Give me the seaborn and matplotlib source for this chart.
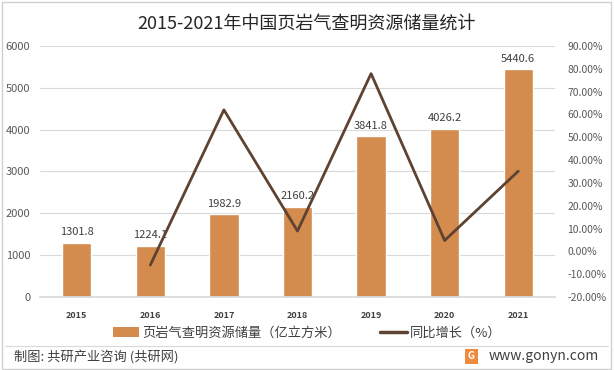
import numpy as np
import pandas as pd
import seaborn as sns
import matplotlib.pyplot as plt
from matplotlib.patches import Patch, Rectangle
from matplotlib.lines import Line2D
from matplotlib.ticker import PercentFormatter

# data
years = ['2015', '2016', '2017', '2018', '2019', '2020', '2021']
reserves = [1301.8, 1224.1, 1982.9, 2160.2, 3841.8, 4026.2, 5440.6]
growth = [np.nan, -5.97, 61.99, 8.94, 77.85, 4.80, 35.14]

bar_color = '#D38B4E'
line_color = '#5E4232'

sns.set_theme(style='white')
plt.rcParams['font.family'] = ['Noto Sans CJK SC', 'DejaVu Sans']
plt.rcParams['axes.unicode_minus'] = False

df = pd.DataFrame({'year': years, 'reserves': reserves, 'growth': growth})
df['pos'] = range(len(df))

fig = plt.figure(figsize=(6.14, 3.70), dpi=100)
ax = fig.add_axes([0.065, 0.197, 0.839, 0.679])

sns.barplot(data=df, x='year', y='reserves', color=bar_color, width=0.4,
            saturation=1, ax=ax, zorder=2)
ax.set_ylim(0, 6000)
ax.set_yticks(range(0, 6001, 1000))
ax.set_xlim(-0.5, 6.5)
ax.yaxis.grid(True, color='#D9D9D9', lw=0.8, zorder=0)
ax.set_axisbelow(True)
ax.set_xlabel('')
ax.set_ylabel('')
ax.tick_params(axis='y', labelsize=8, pad=7, colors='#595959', length=0)
ax.tick_params(axis='x', labelsize=6.5, pad=10, length=0)
for lab in ax.get_xticklabels():
    lab.set_fontweight('bold')
    lab.set_color('#404040')
for s in ax.spines.values():
    s.set_visible(False)
ax.spines['bottom'].set_visible(True)
ax.spines['bottom'].set_color('#D9D9D9')

for i, v in enumerate(reserves):
    ax.text(i, v + 130, f'{v:.1f}', ha='center', va='bottom', fontsize=8,
            color='#404040')

ax2 = ax.twinx()
sns.lineplot(data=df.dropna(), x='pos', y='growth', color=line_color, lw=2,
             ax=ax2, zorder=3)
ax2.set_ylim(-20, 90)
ax2.set_yticks(range(-20, 91, 10))
ax2.yaxis.set_major_formatter(PercentFormatter(decimals=2))
ax2.set_xlim(-0.5, 6.5)
ax2.set_ylabel('')
ax2.set_xlabel('')
ax2.tick_params(axis='y', labelsize=7.5, pad=9, colors='#595959', length=0)
for s in ax2.spines.values():
    s.set_visible(False)

fig.text(0.5, 0.935, '2015-2021年中国页岩气查明资源储量统计', ha='center',
         va='center', fontsize=13, color='#262626')

handles = [Patch(facecolor=bar_color, edgecolor='none'),
           Line2D([], [], color=line_color, lw=2.5)]
fig.legend(handles, ['页岩气查明资源储量（亿立方米）', '同比增长（%）'],
           loc='center', bbox_to_anchor=(0.5, 0.1), ncol=2, frameon=False,
           fontsize=9.5, handlelength=2.0, handletextpad=0.2,
           columnspacing=3, labelcolor='#404040')

fig.add_artist(Line2D([0.008, 0.99], [0.065, 0.065], color='#D9D9D9', lw=0.8,
                      transform=fig.transFigure))
fig.text(0.022, 0.035, '制图: 共研产业咨询 (共研网)', ha='left', va='center',
         fontsize=9.5, color='#404040')
fig.add_artist(Rectangle((0.757, 0.016), 0.021, 0.042, facecolor='#F08A3C',
                         edgecolor='none', transform=fig.transFigure))
fig.text(0.7675, 0.037, 'G', ha='center', va='center', fontsize=7,
         color='white', fontweight='bold')
fig.text(0.975, 0.037, 'www.gonyn.com', ha='right', va='center', fontsize=10,
         color='#404040')
fig.add_artist(Rectangle((0.003, 0.004), 0.992, 0.99, facecolor='none',
                         edgecolor='#D0D0D0', lw=1, transform=fig.transFigure))

fig.savefig('out.png', dpi=100)
